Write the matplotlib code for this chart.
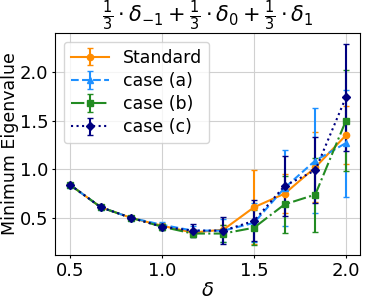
import matplotlib
matplotlib.use("Agg")
import matplotlib.pyplot as plt

delta = [0.5, 0.6667, 0.8333, 1.0, 1.1667, 1.3333, 1.5, 1.6667, 1.8333, 2.0]

std_vals = [0.84, 0.61, 0.50, 0.42, 0.35, 0.38, 0.61, 0.75, 1.02, 1.35]
std_err = [0.01, 0.01, 0.02, 0.03, 0.04, 0.05, 0.38, 0.20, 0.36, 0.30]

a_vals = [0.84, 0.61, 0.50, 0.43, 0.37, 0.37, 0.45, 0.81, 1.09, 1.27]
a_err = [0.01, 0.01, 0.02, 0.03, 0.05, 0.12, 0.20, 0.39, 0.54, 0.55]

b_vals = [0.84, 0.61, 0.50, 0.41, 0.34, 0.34, 0.40, 0.64, 0.74, 1.50]
b_err = [0.01, 0.01, 0.02, 0.03, 0.04, 0.09, 0.18, 0.29, 0.38, 0.52]

c_vals = [0.84, 0.61, 0.50, 0.41, 0.37, 0.37, 0.47, 0.83, 0.99, 1.74]
c_err = [0.01, 0.01, 0.02, 0.03, 0.07, 0.14, 0.21, 0.31, 0.34, 0.55]

series = [
    ("Standard", std_vals, std_err, "darkorange", "-", "o"),
    ("case (a)", a_vals, a_err, "dodgerblue", "--", "^"),
    ("case (b)", b_vals, b_err, "forestgreen", "-.", "s"),
    ("case (c)", c_vals, c_err, "navy", ":", "D"),
]

fig = plt.figure(figsize=(3.65, 3.01), dpi=100)
ax = fig.add_axes([0.151, 0.153, 0.835, 0.737])
for label, vals, err, color, ls, marker in series:
    ax.errorbar(delta, vals, yerr=err, color=color, linestyle=ls,
                marker=marker, markersize=4.5, capsize=2, linewidth=1.5,
                elinewidth=1.5, label=label)

ax.set_xticks([0.5, 1.0, 1.5, 2.0])
ax.set_yticks([0.5, 1.0, 1.5, 2.0])
ax.set_xlim(0.418, 2.076)
ax.set_ylim(0.12, 2.40)
ax.tick_params(labelsize=13, length=2.5, pad=2.5)
ax.grid(True, color="#d0d0d0")
ax.set_xlabel(r"$\delta$", fontsize=14, labelpad=1)
ax.set_ylabel("Minimum Eigenvalue", fontsize=12.5)
ax.yaxis.set_label_coords(-0.117, 0.5)
ax.set_title(r"$\frac{1}{3}\cdot\delta_{-1}+\frac{1}{3}\cdot\delta_0+\frac{1}{3}\cdot\delta_1$",
             fontsize=15)
ax.legend(loc="upper left", fontsize=12.5, handlelength=2.2,
          borderaxespad=0.5, labelspacing=0.3)
fig.savefig("out.png", dpi=100)
